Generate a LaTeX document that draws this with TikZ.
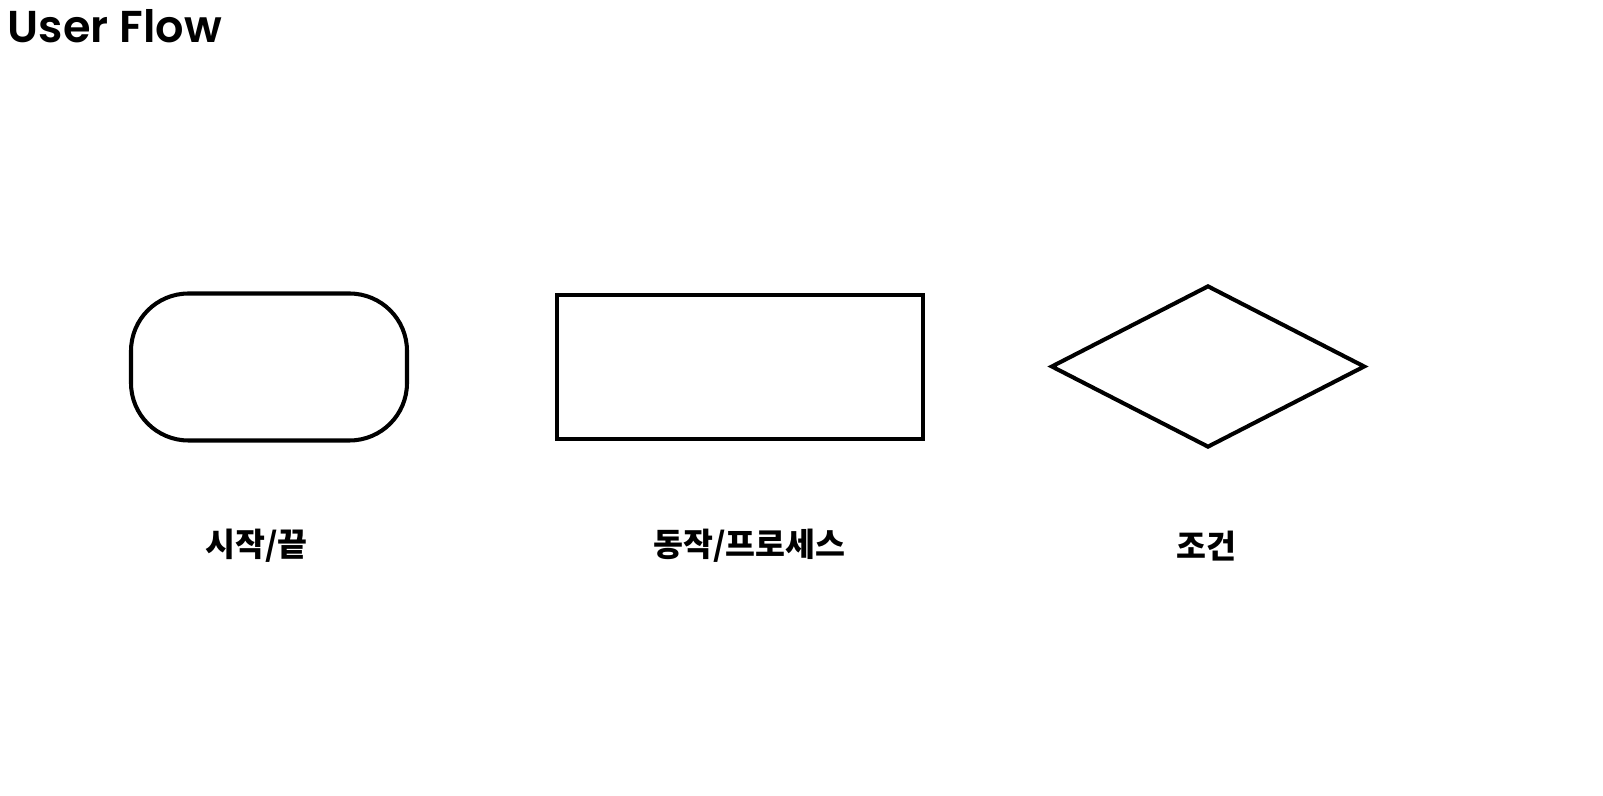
\documentclass[tikz,border=0pt]{standalone}
\usepackage{fontspec}
\setmainfont{Poppins}
\newfontfamily\titlefont{Poppins SemiBold}
\newfontfamily\kofont{Noto Sans CJK KR}
\usetikzlibrary{shapes.geometric}

\providecommand*{\wPic}{}
\providecommand*{\hPic}{}
\renewcommand*{\wPic}{32.06}
\renewcommand*{\hPic}{15.9}

\tikzset{
  shapeline/.style={draw=black, line width=2.3pt, inner sep=0pt},
  terminal/.style={shapeline, rectangle, rounded corners=1.15cm},
  process/.style={shapeline, rectangle},
  decision/.style={shapeline, diamond, aspect=1.94},
  caption/.style={font=\kofont\bfseries\fontsize{18.5}{22}\selectfont}
}

\begin{document}
\begin{tikzpicture}
  \useasboundingbox (0,0) rectangle (\wPic,\hPic);
  \node [anchor=base west, inner sep=0pt, font=\titlefont\fontsize{25.4}{30}\selectfont]
    (title) at (0.15,15.04) {User Flow};

  % shapes
  \node [terminal, minimum width=5.52cm, minimum height=2.94cm] (startend) at (5.38,8.56) {};
  \node [process, minimum width=7.32cm, minimum height=2.88cm] (action) at (14.80,8.56) {};
  \node [decision, minimum width=6.28cm, minimum height=3.24cm] (cond) at (24.16,8.57) {};

  % captions
  \node [caption] (startendlabel) at (5.13,4.98) {시작/끝};
  \node [caption] (actionlabel) at (14.99,4.98) {동작/프로세스};
  \node [caption] (condlabel) at (24.13,4.98) {조건};
\end{tikzpicture}
\end{document}
